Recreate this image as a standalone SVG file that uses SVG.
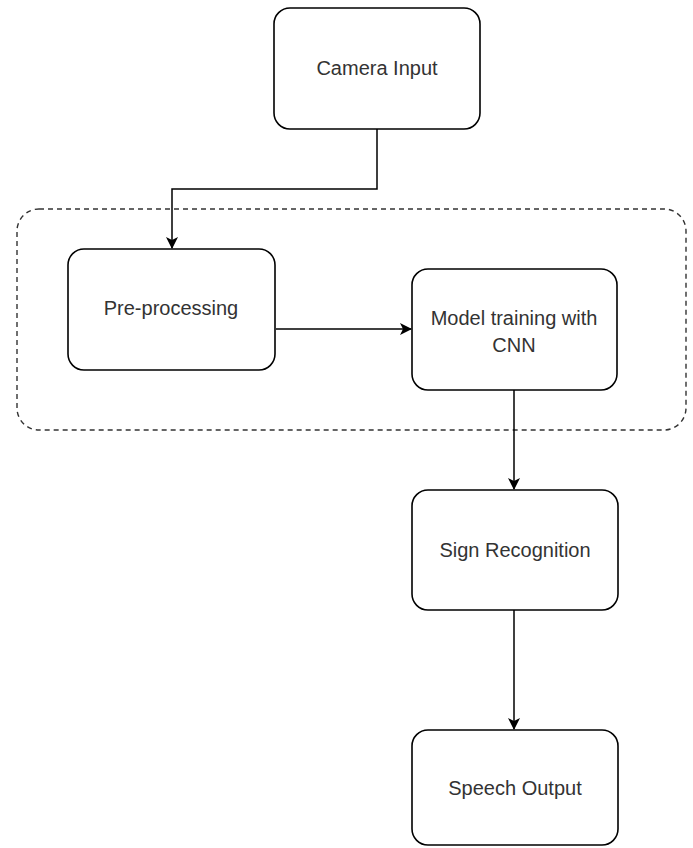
<svg xmlns="http://www.w3.org/2000/svg" width="693" height="848" viewBox="0 0 693 848">
<defs>
<style>
.box{fill:#fff;stroke:#000;stroke-width:1.6}
.lbl{font-family:"Liberation Sans",Arial,sans-serif;font-size:20px;fill:#333;text-anchor:middle;dominant-baseline:middle}
.edge{fill:none;stroke:#000;stroke-width:1.5}
</style>
<marker id="arr" markerWidth="12" markerHeight="14" refX="11" refY="6" orient="auto" markerUnits="userSpaceOnUse">
<path d="M0,0 L12,6 L0,12 L3,6 Z" fill="#000"/>
</marker>
</defs>
<rect width="693" height="848" fill="#fff"/>
<g id="container">
<rect x="17" y="209" width="669" height="221" rx="22" ry="22" fill="none" stroke="#333" stroke-width="1.4" stroke-dasharray="5,4"/>
</g>
<g id="connectors">
<path class="edge" d="M377,129 V189 H172 V248" marker-end="url(#arr)"/>
<path class="edge" d="M276,329 H411" marker-end="url(#arr)"/>
<path class="edge" d="M514,390 V489" marker-end="url(#arr)"/>
<path class="edge" d="M514,610 V729" marker-end="url(#arr)"/>
</g>
<g id="camera">
<rect class="box" x="274" y="8" width="206" height="121" rx="16"/>
<text class="lbl" x="377" y="70">Camera Input</text>
</g>
<g id="preprocessing">
<rect class="box" x="68" y="249" width="207" height="121" rx="16"/>
<text class="lbl" x="171" y="310">Pre-processing</text>
</g>
<g id="model">
<rect class="box" x="412" y="269" width="205" height="121" rx="16"/>
<text class="lbl" x="514" y="320">Model training with</text>
<text class="lbl" x="514" y="347">CNN</text>
</g>
<g id="sign">
<rect class="box" x="412" y="490" width="206" height="120" rx="16"/>
<text class="lbl" x="515" y="552">Sign Recognition</text>
</g>
<g id="speech">
<rect class="box" x="412" y="730" width="206" height="115" rx="16"/>
<text class="lbl" x="515" y="790">Speech Output</text>
</g>
</svg>
